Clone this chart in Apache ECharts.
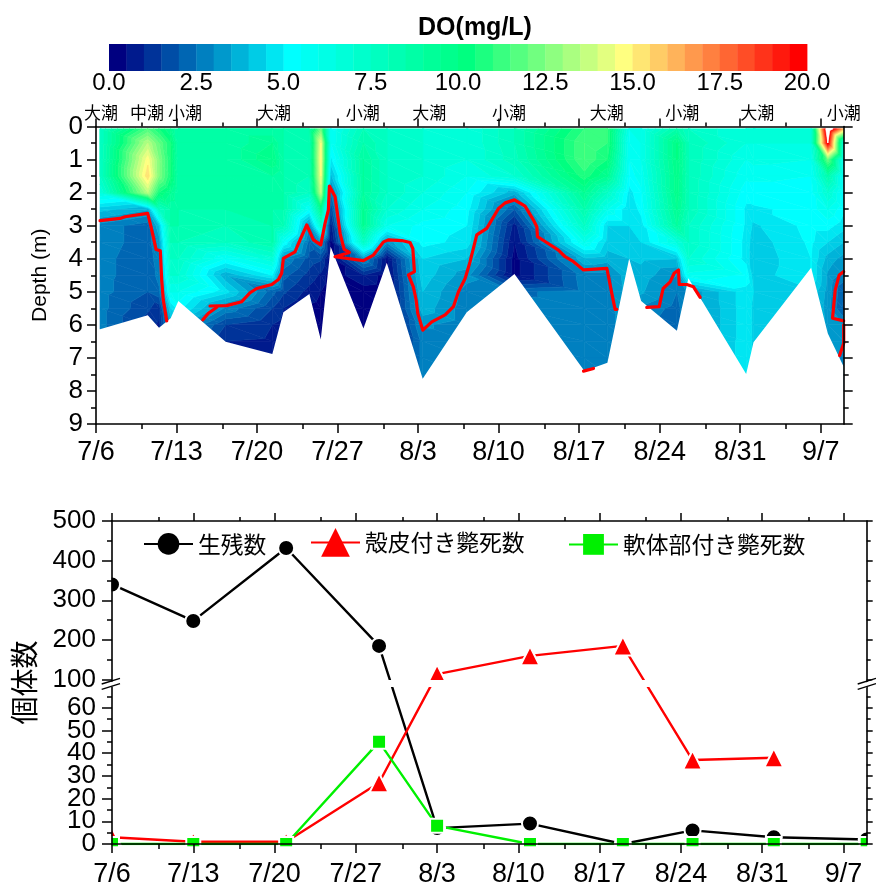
<!DOCTYPE html>
<html><head><meta charset="utf-8">
<style>html,body{margin:0;padding:0;background:#fff}#c{width:876px;height:888px}</style>
<script src="https://cdn.jsdelivr.net/npm/echarts@6/dist/echarts.min.js"></script>
</head><body><div id="c"></div>
<script>
// ---------- DATA ----------
const sampleDays=[0.35,4.5,5.48,6.49,7.16,11.27,15.33,16.29,18.55,19.54,20.4,23.25,25.28,28.4,32.23,36.38,42.46,44.46,46.35,47.39,50.5,51.5,56.52,57.16,62.17,63.62,65];
const sampleDepths=[0.07,0.5,1,1.5,2,2.5,3,3.5,4,4.5,5,5.5,6,6.5,7,7.5,8];
const doProfiles=[
[7.5,7.5,7.5,7.5,6.5,4.2,2.8,2.8,2.7,2.7,2.7,2.7,2.7,2.7,2.7,2.7,2.7],
[11.5,13.5,14.8,15.4,13.5,3.6,2.2,2.2,2.1,2.1,2.0,1.6,1.2,1.2,1.2,1.2,1.2],
[10.5,12,12.5,12.5,10.5,7.5,4,3.2,2.9,2.7,2.4,1.2,.9,.9,.9,.9,.9],
[9.5,10.5,10.5,10.5,9.5,8.5,8.5,8,7.5,7,6,4.5,3.5,3,2.9,2.9,2.9],
[8.5,8.5,8.5,8.5,8.5,8.5,8.5,8,7.5,7,6,5.2,3.5,2.5,2,2,2],
[8.5,8.5,8.5,8.5,8.5,8.5,8,7.5,5.5,3.6,4.7,2.9,1.5,1,1,1,1],
[8.5,9.5,10,9,8.5,8.5,8.5,8.5,6.8,5,2.2,1.5,1,.9,.8,.8,.8],
[8.5,8.5,8.5,8.5,8.5,8.5,8,5.5,3,2.2,1.6,1,.8,.8,.8,.8,.8],
[8.5,8,8,8,7.5,5.5,3,2.3,1.8,1.3,.8,.4,.3,.3,.3,.3,.3],
[12,14.5,14.8,14.5,13.5,9.5,7,3.2,1.6,.9,.5,.3,.2,.2,.2,.2,.2],
[5.5,5.5,4.8,3.8,2.5,1.5,.7,.2,.1,.1,.1,.1,.1,.1,.1,.1,.1],
[8,8.5,9,9,9,9.5,9.5,7.5,3.2,1,.2,.1,.1,.1,.1,.1,.1],
[7.5,7.5,7.5,7.5,7.5,7,6,3.1,.4,.2,.1,.1,.1,.1,.1,.1,.1],
[7,7,7,7,6.5,6,5.3,5.2,4.5,4.3,4,3.8,3.1,2.7,2.7,2.7,2.7],
[6.5,6.5,6.5,6,5.5,5.2,5,4.8,4,3.2,2.8,2.7,2.7,2.7,2.7,2.7,2.7],
[8,8,7.8,7,3.7,2,.8,.5,.3,.3,2.4,2.7,2.7,2.7,2.7,2.7,2.7],
[11,11.5,11.5,10.8,9.5,8.5,7.5,6,3.9,2.8,2.7,2.7,2.7,2.7,2.7,2.7,2.7],
[11,11,10.5,9.5,7.5,6,4.5,4.3,3.7,2.8,2.7,2.7,2.7,2.7,2.7,2.7,2.7],
[6,5.5,5.5,5.3,4.8,4.5,4.5,4.3,4,3.9,3.8,3.7,3.5,3.5,3.5,3.5,3.5],
[6,6,6,5.7,5.4,5.2,4.7,4.5,4.1,3.8,3.6,2.9,2.8,2.8,2.8,2.8,2.8],
[8.5,10,10,9.8,9.8,9.5,9,6.5,4,3,2.5,2.3,2.1,2,2,2,2],
[7.5,8,8,8,8,8,7.5,7.5,7,5.8,3.1,3,3,3.2,3.2,3.2,3.2],
[6.5,6.5,6,5.6,5.2,4.9,4.9,4.8,4.8,5.4,4.8,4.8,4.8,4.8,4.8,4.8,4.8],
[6.5,6.5,6.2,5.6,5.3,4.9,4.4,4.2,4.1,4.2,4.5,4.4,4.4,4.4,4.4,4.4,4.4],
[6.5,6.5,6,5.5,5.3,5.2,5.2,5.1,5,5,4.4,4.4,4.4,4.4,4.4,4.4,4.4],
[22,20,12,8.5,7,6,5.2,4.5,3.8,3.4,3.3,3.2,3.3,3.4,3.3,3.3,3.3],
[16,6,5.5,5.3,5.2,5.1,4.7,4,3.3,2.8,2,1.9,3,3.1,2.9,2.7,2.7]
];
const seabed=[[0.35,6.13],[4.5,5.71],[5.48,6.09],[6.49,5.8],[7.16,5.28],[11.27,6.51],[15.33,6.88],[16.29,5.62],[18.55,5.07],[19.54,6.44],[20.4,3.64],[23.25,6.11],[25.28,4.12],[28.4,7.63],[32.23,5.62],[36.38,4.46],[42.46,7.4],[44.46,7.15],[46.35,3.99],[47.39,5.28],[50.5,6.18],[51.5,4.59],[56.52,7.49],[57.16,6.53],[62.17,4.27],[63.62,6.26],[65,7.27]];
const redA=[[.35,2.85],[2.09,2.78],[2.52,2.73],[4.49,2.63],[4.78,3.03],[5.22,3.72],[5.59,3.76],[5.71,4.64],[5.85,5.25],[6.15,5.88]];
const redB=[[9.28,5.85],[9.77,5.65],[10.5,5.47]];
const redC=[[9.91,5.43],[11.36,5.42],[12.67,5.3],[13.39,5.03],[13.97,4.9],[15.28,4.78],[15.86,4.63],[16.14,4.44],[16.29,3.99],[17.3,3.79],[17.74,3.43],[18.32,2.98],[18.9,3.43],[19.54,3.58],[19.91,2.93],[20.2,2.53],[20.29,1.8],[20.78,2.12],[21.22,3.23],[21.57,3.72],[22.03,3.81],[20.78,3.94],[23.25,4.06],[24.12,3.89],[24.99,3.49],[25.42,3.43],[26.58,3.45],[27.3,3.51],[27.54,3.69],[27.68,4.39],[27.16,4.49],[27.59,4.85],[27.83,5.25],[27.97,5.65],[28.41,6.16],[29.19,5.91],[30.35,5.7],[31.07,5.45],[31.51,5],[32.09,4.6],[32.52,4.09],[33.1,3.28],[33.97,3.08],[34.99,2.48],[35.57,2.31],[36.38,2.22],[37.3,2.41],[38.03,2.83],[38.32,3.03],[38.38,3.33],[39.04,3.48],[40.2,3.74],[40.78,3.94],[41.51,4.09],[42.38,4.34],[44.41,4.29],[44.84,5.05],[45.13,5.53],[45.28,5.53]];
const redD=[[47.88,5.47],[48.96,5.45],[49.3,4.9],[49.91,4.7],[50.26,4.44],[50.64,4.34],[50.7,4.78],[51.36,4.78],[51.94,4.85],[52.52,5.17]];
const redE=[[42.38,7.4],[43.25,7.32]];
const redF=[[65,4.39],[64.61,4.49],[64.26,4.95],[64.03,5.8],[65,5.88]];
const redG=[[65,6],[65,6.56],[64.64,6.93]];
const tideDays=[.43,4.43,7.74,15.48,23.2,28.96,35.9,44.4,50.96,57.48,65];
const tideNames=['大潮','中潮','小潮','大潮','小潮','大潮','小潮','大潮','小潮','大潮','小潮'];
const weekDays=[0,7,14,21,28,35,42,49,56,63];
const weekLabels=['7/6','7/13','7/20','7/27','8/3','8/10','8/17','8/24','8/31','9/7'];
const weekMinor=[4,11,18,25,32,39,46,53,60];
const depthMajor=[0,1,2,3,4,5,6,7,8,9];
const depthMinor=[.5,1.5,2.5,3.5,4.5,5.5,6.5,7.5,8.5];
const countDays=[0,7,15,23,28,36,44,50,57,65];
const survivors=[340,248,432,185,7,9,0,6,3,2];
const deadShell=[3,1,1,27,114,160,185,37,38];
const deadSoft=[0,0,0,45,8,0,0,0,0,0];
const countMajor=[0,10,20,30,40,50,60,100,200,300,400,500];
const countLabelsA=[0,20,40,60,200,400];
const countLabelsB=[10,30,50,100,300,500];
const countMinor=[5,15,25,35,45,55,65,150,250,350,450];

// ---------- SCALES / COLOURS ----------
const FONT="'Liberation Sans','Noto Sans CJK JP',sans-serif", JP="'Noto Sans CJK JP','Liberation Sans',sans-serif";
const hex=(r,g,b)=>'rgb('+Math.round(r)+','+Math.round(g)+','+Math.round(b)+')';
function binColor(i){
  if(i<10)return hex(0,25.5*i,128+12.7*i);
  if(i<20)return hex(0,255,255-12.7*(i-10));
  if(i<=29)return hex(255*(i-20)/9,255,128);
  const k=(i-29)/10;return hex(255,255*(1-k),128*(1-k));
}
const bins=[];for(let i=0;i<40;i++)bins.push([i*.5,(i+1)*.5,binColor(i)]);
const bands=bins.concat([[20,1000,'#ffffff']]);
const LOWER_PX=2.278, UPPER_PX=.398, BREAK_AT=72.43;
const toAxis=v=>v<=70?v:BREAK_AT+(v-100)*UPPER_PX/LOWER_PX;
const fromAxis=a=>a<=70?Math.round(a):Math.round(100+(a-BREAK_AT)*LOWER_PX/UPPER_PX);

// ---------- contour geometry ----------
function clipAt(p,L,above){
  const out=[];
  for(let i=0;i<p.length;i++){
    const a=p[i],b=p[(i+1)%p.length];
    const ina=above?a[2]>=L:a[2]<=L,inb=above?b[2]>=L:b[2]<=L;
    if(ina)out.push(a);
    if(ina!==inb){const t=(L-a[2])/(b[2]-a[2]);out.push([a[0]+t*(b[0]-a[0]),a[1]+t*(b[1]-a[1]),L]);}
  }
  return out;
}
const triangles=[];
for(let c=0;c<sampleDays.length-1;c++)for(let r=0;r<sampleDepths.length-1;r++){
  const P=(cc,rr)=>[sampleDays[cc],sampleDepths[rr],doProfiles[cc][rr]];
  const a=P(c,r),b=P(c+1,r),d=P(c,r+1),e=P(c+1,r+1);
  triangles.push([a,b,e],[a,e,d]);
}
function renderBand(params,api){
  const b=bands[api.value(0)],children=[];
  for(const t of triangles){
    const vs=t.map(p=>p[2]);
    if(Math.max(...vs)<b[0]||Math.min(...vs)>b[1])continue;
    let p=clipAt(t,b[0],true);if(p.length<3)continue;
    p=clipAt(p,b[1],false);if(p.length<3)continue;
    children.push({type:'polygon',shape:{points:p.map(q=>api.coord([q[0],q[1]]))},
      style:{fill:b[2],stroke:b[2],lineWidth:.6}});
  }
  return {type:'group',children};
}

// ---------- axes ----------
function tickAxis(kind,grid,pos,min,max,values,len,extra){
  const o={type:'value',gridIndex:grid,position:pos,min,max,z:10,silent:true,
    axisLine:{show:false,onZero:false},splitLine:{show:false},
    axisTick:{show:len>0,inside:false,length:len,customValues:values,lineStyle:{color:'#000',width:1.5}},
    axisLabel:{show:false}};
  return Object.assign(o,extra||{});
}
const line={show:true,onZero:false,lineStyle:{color:'#000',width:1.6}};
const xAxes=[],yAxes=[];
// colour bar
xAxes.push({type:'value',gridIndex:0,position:'bottom',min:0,max:20,interval:2.5,axisLine:{show:false},axisTick:{show:false},splitLine:{show:false},
  axisLabel:{show:true,fontSize:24,fontFamily:FONT,color:'#000',margin:0,formatter:v=>v.toFixed(1)}});
yAxes.push({type:'value',gridIndex:0,min:0,max:1,show:false});
// depth section x
const weekLbl=(m,s)=>({show:true,customValues:weekDays,fontSize:s,fontFamily:FONT,color:'#000',margin:m,showMinLabel:true,showMaxLabel:true,
  formatter:v=>weekLabels[weekDays.indexOf(v)]});
xAxes.push(tickAxis('x',1,'bottom',0,65,weekDays,9,{axisLine:line,axisLabel:weekLbl(15,27)}));
xAxes.push(tickAxis('x',1,'bottom',0,65,weekMinor,5));
xAxes.push(tickAxis('x',1,'top',0,65,weekDays,8,{axisLine:line}));
xAxes.push(tickAxis('x',1,'top',0,65,weekMinor,4));
xAxes.push(tickAxis('x',1,'top',0,65,tideDays,0,{axisLabel:{show:true,customValues:tideDays,fontSize:17,fontFamily:JP,color:'#000',margin:5,
  formatter:v=>tideNames[tideDays.indexOf(v)]}}));
const inv={inverse:true};
yAxes.push(tickAxis('y',1,'left',0,9,depthMajor,9,Object.assign({axisLine:line,name:'Depth (m)',nameLocation:'middle',nameGap:45,nameRotate:90,
  nameTextStyle:{fontSize:21,fontFamily:FONT,color:'#000'},
  axisLabel:{show:true,customValues:depthMajor,showMinLabel:true,showMaxLabel:true,fontSize:26,fontFamily:FONT,color:'#000',margin:13,formatter:v=>String(v)}},inv)));
yAxes.push(tickAxis('y',1,'left',0,9,depthMinor,5,inv));
yAxes.push(tickAxis('y',1,'right',0,9,depthMajor,9,Object.assign({axisLine:line},inv)));
yAxes.push(tickAxis('y',1,'right',0,9,depthMinor,5,inv));
// counts
const MAXA=toAxis(500);
const countLbl=vals=>({show:true,customValues:vals.map(toAxis),showMinLabel:true,showMaxLabel:true,hideOverlap:false,fontSize:26,fontFamily:FONT,color:'#000',margin:16,formatter:v=>String(fromAxis(v))});
xAxes.push(tickAxis('x',2,'bottom',0,65,weekDays,9,{axisLine:line,axisLabel:weekLbl(17,27)}));
xAxes.push(tickAxis('x',2,'bottom',0,65,weekMinor,5));
xAxes.push(tickAxis('x',2,'top',0,65,weekDays,8,{axisLine:line}));
xAxes.push(tickAxis('x',2,'top',0,65,weekMinor,4));
yAxes.push(tickAxis('y',2,'left',0,MAXA,countMajor.map(toAxis),10,{axisLine:line,name:'個体数',nameLocation:'middle',nameGap:74,nameRotate:90,
  nameTextStyle:{fontSize:28,fontFamily:JP,color:'#000'},axisLabel:countLbl(countLabelsA)}));
yAxes.push(tickAxis('y',2,'left',0,MAXA,countMinor.map(toAxis),5,{axisLabel:countLbl(countLabelsB)}));
yAxes.push(tickAxis('y',2,'right',0,MAXA,countMajor.map(toAxis),6,{axisLine:line}));
yAxes.push(tickAxis('y',2,'right',0,MAXA,countMinor.map(toAxis),4));

// ---------- series ----------
const S=[];
S.push({type:'custom',xAxisIndex:0,yAxisIndex:0,silent:true,data:bins.map((b,i)=>[b[0],b[1],i]),encode:{x:[0,1]},
  renderItem:(p,api)=>{const a=api.coord([api.value(0),1]),b=api.coord([api.value(1),0]);
    return {type:'rect',shape:{x:a[0],y:a[1],width:b[0]-a[0]+.4,height:b[1]-a[1]},style:{fill:bins[api.value(2)][2]}};}});
S.push({type:'custom',xAxisIndex:1,yAxisIndex:1,silent:true,clip:true,data:bands.map((b,i)=>[i]),encode:{x:0},renderItem:renderBand});
[redA,redB,redC,redD,redE,redF,redG].forEach(r=>S.push({type:'line',xAxisIndex:1,yAxisIndex:1,data:r,showSymbol:false,silent:true,clip:true,
  lineStyle:{color:'#ff0000',width:3.2,join:'round',cap:'round'}}));
const bedPoly=seabed.concat([[65,9],[0,9],[0,seabed[0][1]]]);
S.push({type:'custom',xAxisIndex:1,yAxisIndex:1,silent:true,clip:true,data:[[0]],encode:{x:0},
  renderItem:(p,api)=>({type:'polygon',shape:{points:bedPoly.map(q=>api.coord(q))},style:{fill:'#fff'}})});
const counts=(name,arr,color,sym,size)=>({type:'line',name,xAxisIndex:6,yAxisIndex:5,clip:true,silent:true,
  data:arr.map((v,i)=>[countDays[i],toAxis(v)]),symbol:sym,symbolSize:size,showAllSymbol:true,
  lineStyle:{color,width:2.4},itemStyle:{color,borderColor:'#fff',borderWidth:2}});
S.push(counts('生残数',survivors,'#000000','circle',16));
S.push(counts('殻皮付き斃死数',deadShell,'#ff0000','triangle',19));
S.push(counts('軟体部付き斃死数',deadSoft,'#00f000','rect',14));
// white band of the axis break
S.push({type:'custom',xAxisIndex:6,yAxisIndex:5,silent:true,clip:true,data:[[0]],encode:{x:0},z:4,
  renderItem:(p,api)=>{const a=api.coord([0,72.3]),b=api.coord([65,69.2]);
    return {type:'rect',shape:{x:a[0],y:a[1],width:b[0]-a[0],height:b[1]-a[1]},style:{fill:'#fff'}};}});

const leg=(name,left,h)=>({data:[name],left,top:546-h/2,itemWidth:49,itemHeight:h,itemGap:0,padding:0,
  itemStyle:{borderWidth:0},textStyle:{fontSize:22.8,fontFamily:JP,color:'#000'},selectedMode:false});

const brk=(x1,x2)=>[
  {type:'polygon',z:20,shape:{points:[[x1,685],[x2,679.3],[x2,684.3],[x1,690]]},style:{fill:'#fff'}},
  {type:'line',z:21,shape:{x1,y1:684,x2,y2:678.3},style:{stroke:'#000',lineWidth:1.4}},
  {type:'line',z:21,shape:{x1,y1:689.3,x2,y2:683.6},style:{stroke:'#000',lineWidth:1.4}}];

const chart=echarts.init(document.getElementById('c'),null,{renderer:'canvas'});
chart.setOption({
  animation:false,backgroundColor:'#fff',
  title:{text:'DO(mg/L)',left:470,top:11,textAlign:'center',textStyle:{fontSize:25,fontWeight:'bold',fontFamily:FONT,color:'#000'}},
  grid:[{left:109,width:698,top:44,height:27},
        {left:96,width:747.7,top:126.5,height:297.5},
        {left:112,width:754.7,top:521,height:324.7}],
  xAxis:xAxes,yAxis:yAxes,series:S,
  legend:[leg('生残数',143,27),leg('殻皮付き斃死数',310,36),leg('軟体部付き斃死数',568,26)],
  graphic:[
    {type:'rect',z:5,shape:{x:100,y:510,width:11.6,height:350},style:{fill:'#fff'}},
    {type:'rect',z:5,shape:{x:100,y:846.2,width:776,height:22},style:{fill:'#fff'}},
    {type:'rect',z:5,shape:{x:867.2,y:510,width:9,height:350},style:{fill:'#fff'}}
  ].concat(brk(101.7,120),brk(857.7,876))
});
</script></body></html>
